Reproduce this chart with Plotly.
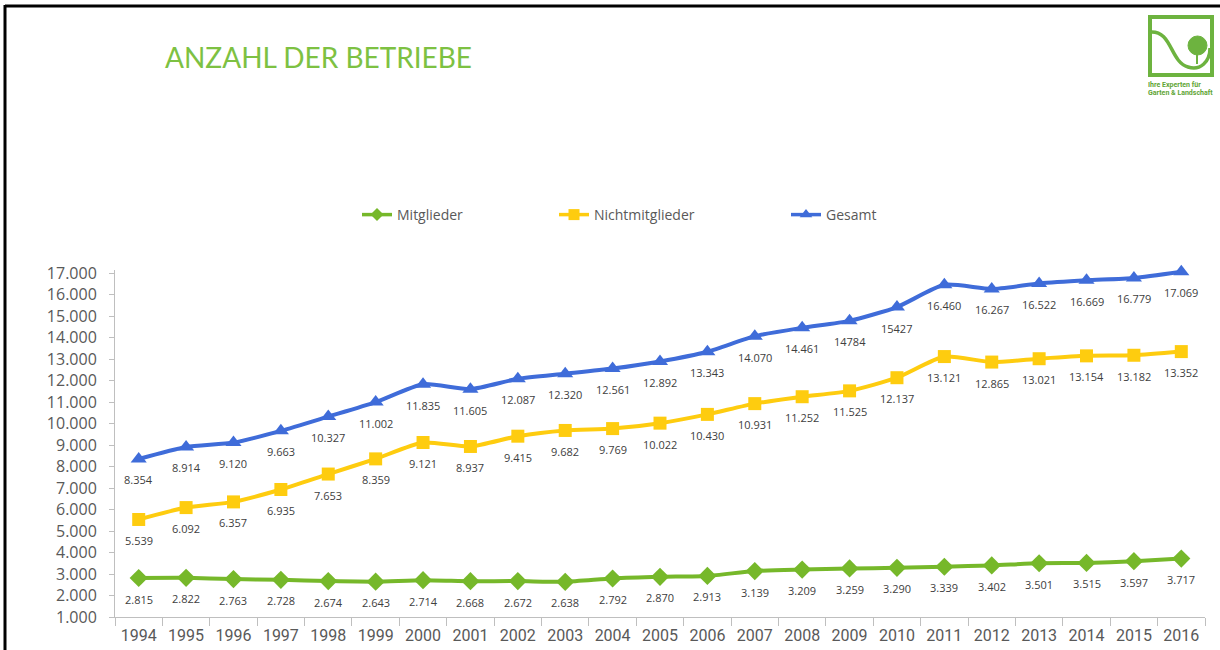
import plotly.graph_objects as go

# ---- data ----
years = [str(y) for y in range(1994, 2017)]
mitglieder = [2815, 2822, 2763, 2728, 2674, 2643, 2714, 2668, 2672, 2638, 2792, 2870,
              2913, 3139, 3209, 3259, 3290, 3339, 3402, 3501, 3515, 3597, 3717]
nichtmitglieder = [5539, 6092, 6357, 6935, 7653, 8359, 9121, 8937, 9415, 9682, 9769, 10022,
                   10430, 10931, 11252, 11525, 12137, 13121, 12865, 13021, 13154, 13182, 13352]
gesamt = [8354, 8914, 9120, 9663, 10327, 11002, 11835, 11605, 12087, 12320, 12561, 12892,
          13343, 14070, 14461, 14784, 15427, 16460, 16267, 16522, 16669, 16779, 17069]
# labels that appear without thousands separator in the source
gesamt_unformatted = ["2009", "2010"]

series_names = ["Mitglieder", "Nichtmitglieder", "Gesamt"]
y_ticks = list(range(1000, 17001, 1000))


def fmt(v):
    return f"{v:,}".replace(",", ".")


W, H = 1220, 650
L, R, T, B = 115, 15, 270, 33
PW, PH = W - L - R, H - T - B


def px(x):
    return (x - L) / PW


def py(y):
    return (H - B - y) / PH


GREEN = "#76B82A"
YELLOW = "#FECC0F"
BLUE = "#3F6CD9"
TXT = "#595959"
LBL = "#404040"

fig = go.Figure()

styles = [
    (mitglieder, GREEN, "diamond", 14, 10, "legend"),
    (nichtmitglieder, YELLOW, "square", 13, 11, "legend2"),
    (gesamt, BLUE, "triangle-up", 14, 11, "legend3"),
]
for name, (vals, col, sym, ms, lms, leg) in zip(series_names, styles):
    fig.add_trace(go.Scatter(
        x=years, y=vals, name=name, mode="lines+markers",
        line=dict(color=col, width=4, shape="spline", smoothing=0.6),
        marker=dict(color=col, symbol=sym, size=ms),
        showlegend=False, cliponaxis=False, hoverinfo="x+y",
    ))
    # legend-only entry with the smaller legend symbol
    fig.add_trace(go.Scatter(
        x=[None], y=[None], name=name, mode="lines+markers",
        line=dict(color=col, width=3.5),
        marker=dict(color=col, symbol=sym, size=lms),
        legend=leg, hoverinfo="skip",
    ))

annotations = []
for vals, kind in [(mitglieder, "m"), (nichtmitglieder, "n"), (gesamt, "g")]:
    for i, (yr, v) in enumerate(zip(years, vals)):
        txt = str(v) if (kind == "g" and yr in gesamt_unformatted) else fmt(v)
        annotations.append(dict(
            x=i, y=v, xref="x", yref="y", text=txt, showarrow=False,
            yshift=-21, font=dict(family="Open Sans", size=11, color=LBL),
        ))

# title
annotations.append(dict(
    x=px(163), y=py(57), xref="paper", yref="paper", xanchor="left", yanchor="middle",
    text="ANZAHL DER BETRIEBE", showarrow=False,
    font=dict(family="Lato", size=28, color="#7DC142"),
))
# logo text
annotations.append(dict(
    x=px(1146), y=py(85), xref="paper", yref="paper", xanchor="left", yanchor="middle",
    text="<b>Ihre Experten für</b>", showarrow=False,
    font=dict(family="Liberation Sans Narrow, Roboto", size=7, color="#5FA535"),
))
annotations.append(dict(
    x=px(1146), y=py(93), xref="paper", yref="paper", xanchor="left", yanchor="middle",
    text="<b>Garten & Landschaft</b>", showarrow=False,
    font=dict(family="Liberation Sans Narrow, Roboto", size=7, color="#5FA535"),
))

LOGO = "#6DB33F"
shapes = [
    # frame of the slide
    dict(type="line", xref="paper", yref="paper", x0=px(5), x1=px(1220), y0=py(6), y1=py(6),
         line=dict(color="black", width=3)),
    dict(type="line", xref="paper", yref="paper", x0=px(5), x1=px(5), y0=py(5), y1=py(650),
         line=dict(color="black", width=3)),
    # logo square
    dict(type="rect", xref="paper", yref="paper", x0=px(1150), x1=px(1212), y0=py(17), y1=py(75),
         line=dict(color=LOGO, width=4)),
    # logo wave
    dict(type="path", xref="paper", yref="paper",
         path=(f"M {px(1150)},{py(32)} C {px(1172)},{py(30)} {px(1170)},{py(62)} {px(1188)},{py(67)} "
               f"C {px(1200)},{py(71)} {px(1210)},{py(62)} {px(1210)},{py(48)}"),
         line=dict(color=LOGO, width=3.5)),
    # logo tree
    dict(type="circle", xref="paper", yref="paper", x0=px(1188), x1=px(1207), y0=py(36), y1=py(55),
         fillcolor=LOGO, line=dict(color=LOGO, width=1)),
    dict(type="line", xref="paper", yref="paper", x0=px(1197), x1=px(1197), y0=py(54), y1=py(64),
         line=dict(color=LOGO, width=2)),
]

leg_common = dict(orientation="h", yanchor="middle", y=py(215), xanchor="left",
                  font=dict(family="Open Sans", size=14, color=TXT),
                  bgcolor="rgba(0,0,0,0)", itemwidth=30)

fig.update_layout(
    width=W, height=H,
    margin=dict(l=L, r=R, t=T, b=B, autoexpand=False),
    paper_bgcolor="white", plot_bgcolor="white",
    separators=",.",
    showlegend=True,
    legend=dict(leg_common, x=px(357)),
    legend2=dict(leg_common, x=px(554)),
    legend3=dict(leg_common, x=px(786)),
    annotations=annotations,
    shapes=shapes,
    xaxis=dict(
        type="category", range=[-0.5, 22.5], showgrid=False, zeroline=False,
        showline=True, linecolor="#BFBFBF", linewidth=1,
        ticks="outside", tickson="boundaries", ticklen=8, tickcolor="#BFBFBF",
        ticklabelstandoff=4, tickangle=0, automargin=False,
        tickfont=dict(family="Roboto", size=16, color=TXT),
    ),
    yaxis=dict(
        range=[1000, 17150], tickvals=y_ticks, tickformat=",d", showgrid=False, zeroline=False,
        showline=True, linecolor="#BFBFBF", linewidth=1,
        ticks="outside", ticklen=5, tickcolor="#BFBFBF",
        ticklabelstandoff=9, automargin=False,
        tickfont=dict(family="Open Sans", size=16, color=TXT),
    ),
)

fig.write_html("out.html", post_script="document.body.style.margin='0';",
               config={"displayModeBar": False})
